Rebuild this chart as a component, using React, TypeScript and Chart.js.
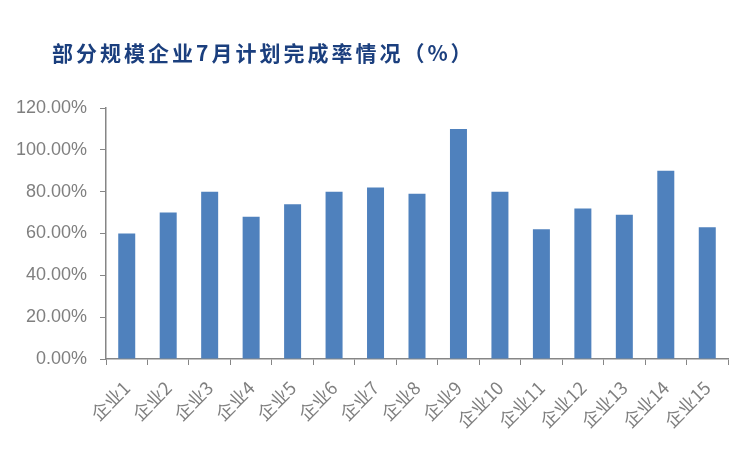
import React, { useEffect, useRef } from "react";
import { Chart, registerables } from "chart.js";

Chart.register(...registerables);

const categories = ["企业1","企业2","企业3","企业4","企业5","企业6","企业7","企业8","企业9","企业10","企业11","企业12","企业13","企业14","企业15"];
const completionRate = [60, 70, 80, 68, 74, 80, 82, 79, 110, 80, 62, 72, 69, 90, 63];
const yTicks = [0, 20, 40, 60, 80, 100, 120];
const titleText = "部分规模企业7月计划完成率情况（%）";

export default function App() {
  const ref = useRef<HTMLCanvasElement | null>(null);
  useEffect(() => {
    if (!ref.current) return;
    const chart = new Chart(ref.current, {
      type: "bar",
      data: {
        labels: categories,
        datasets: [{
          data: completionRate,
          backgroundColor: "#4F81BD",
          borderWidth: 0,
          categoryPercentage: 1,
          barPercentage: 0.41,
        }],
      },
      options: {
        animation: false,
        responsive: false,
        maintainAspectRatio: false,
        layout: { padding: { top: 108, right: 22, left: 0, bottom: 0 } },
        plugins: { legend: { display: false }, tooltip: { enabled: false }, title: { display: false } },
        scales: {
          x: {
            grid: { display: true, drawOnChartArea: false, drawTicks: true, tickLength: 6, color: "#868686", offset: true },
            border: { display: true, color: "#868686", width: 1.5 },
            ticks: {
              color: "#7F7F7F",
              font: { family: "'Noto Sans CJK SC', 'Liberation Sans', sans-serif", size: 18 },
              maxRotation: 45,
              minRotation: 45,
              autoSkip: false,
              padding: 12,
            },
            afterFit: (s: any) => { s.height = 91; },
          },
          y: {
            min: 0,
            max: 120,
            afterBuildTicks: (s: any) => { s.ticks = yTicks.map((v) => ({ value: v })); },
            grid: { display: true, drawOnChartArea: false, drawTicks: true, tickLength: 6, color: "#868686" },
            border: { display: true, color: "#868686", width: 1.5 },
            ticks: {
              color: "#7F7F7F",
              font: { family: "'Liberation Sans', sans-serif", size: 18 },
              padding: 13,
              callback: (v: any) => Number(v).toFixed(2) + "%",
            },
            afterFit: (s: any) => { s.width = 106; },
          },
        },
      },
    });
    return () => chart.destroy();
  }, []);
  return (
    <div style={{ position: "absolute", left: 0, top: 0, width: 750, height: 450, background: "#fff" }}>
      <canvas ref={ref} width={750} height={450} style={{ position: "absolute", left: 0, top: 0 }} />
      <div style={{ position: "absolute", left: 52, top: 37, fontFamily: "'Noto Sans CJK SC', sans-serif", fontWeight: 700, fontSize: 21, color: "#1B3F7E", letterSpacing: 3, whiteSpace: "nowrap", lineHeight: "30px" }}>{titleText}</div>
    </div>
  );
}
